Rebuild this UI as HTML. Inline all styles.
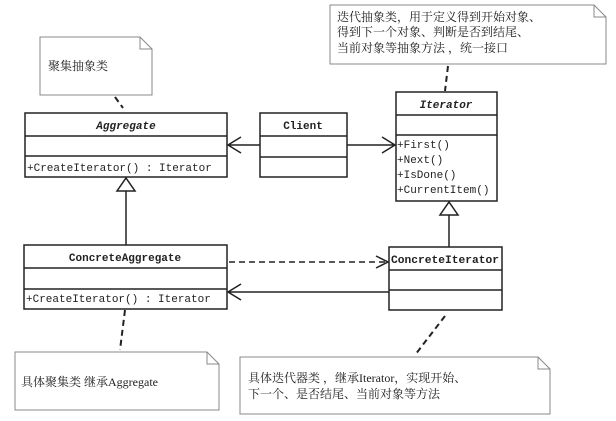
<!DOCTYPE html>
<html><head><meta charset="utf-8"><style>
body{margin:0;background:#fff}
svg{display:block}
text{font-family:"Liberation Mono","Noto Serif CJK SC",monospace;font-size:11px;fill:#222}
.c{font-family:"Liberation Serif","Noto Serif CJK SC",serif;font-size:12px}
.b{font-weight:bold}
</style></head><body>
<svg width="616" height="421" viewBox="0 0 616 421" xmlns="http://www.w3.org/2000/svg">
<g fill="none" stroke="#888" stroke-width="1">
<path d="M40,37 H140 L152,49 V95 H40 Z M140,37 V49 H152"/>
<path d="M330,5 H594 L606,17 V64 H330 Z M594,5 V17 H606"/>
<path d="M15,352 H207 L219,364 V410 H15 Z M207,352 V364 H219"/>
<path d="M240,357 H538 L550,369 V414 H240 Z M538,357 V369 H550"/>
</g>
<g fill="none" stroke="#222" stroke-width="1.5">
<rect x="25" y="113" width="202" height="64"/><path d="M25,136 H227 M25,156 H227"/>
<rect x="260" y="113" width="87" height="64"/><path d="M260,136 H347 M260,157 H347"/>
<rect x="396" y="92" width="101" height="109"/><path d="M396,115 H497 M396,135 H497"/>
<rect x="24" y="245" width="203" height="64"/><path d="M24,268 H227 M24,289 H227"/>
<rect x="389" y="247" width="113" height="63"/><path d="M389,270 H502 M389,290 H502"/>
<path d="M260,145 H228 M241,137 L228,145 L241,153"/>
<path d="M347,145 H395 M382,137 L395,145 L382,153"/>
<path d="M389,292 H228 M241,284 L228,292 L241,300"/>
<path d="M229,262 H388" stroke-dasharray="6,4"/><path d="M376,256 L388,262 L376,268"/>
<path d="M126,191 V245 M117,191 H135 L126,178 Z"/>
<path d="M449,215 V247 M440,215 H458 L449,202 Z"/>
<path d="M115,97 L123,108 M448,66 L445,91 M125,310 L120,350 M445,316 L415,355" stroke-dasharray="6,4" stroke-width="2"/>
</g>
<text class="c" x="48" y="70">聚集抽象类</text>
<text class="c" x="337" y="21">迭代抽象类，用于定义得到开始对象、</text>
<text class="c" x="337" y="36">得到下一个对象、判断是否到结尾、</text>
<text class="c" x="337" y="52">当前对象等抽象方法 ，统一接口</text>
<text class="c" x="21" y="386">具体聚集类 继承Aggregate</text>
<text class="c" x="248" y="382">具体迭代器类 ，继承Iterator，实现开始、</text>
<text class="c" x="248" y="398">下一个、是否结尾、当前对象等方法</text>
<text class="b" x="126" y="129" text-anchor="middle" font-style="italic">Aggregate</text>
<text x="27" y="171">+CreateIterator() : Iterator</text>
<text class="b" x="303" y="129" text-anchor="middle">Client</text>
<text class="b" x="446" y="108" text-anchor="middle" font-style="italic">Iterator</text>
<text x="397" y="148">+First()</text>
<text x="397" y="163">+Next()</text>
<text x="397" y="178">+IsDone()</text>
<text x="397" y="193">+CurrentItem()</text>
<text class="b" x="125" y="261" text-anchor="middle">ConcreteAggregate</text>
<text x="26" y="302">+CreateIterator() : Iterator</text>
<text class="b" x="445" y="263" text-anchor="middle" textLength="108" lengthAdjust="spacingAndGlyphs">ConcreteIterator</text>
</svg>
</body></html>
